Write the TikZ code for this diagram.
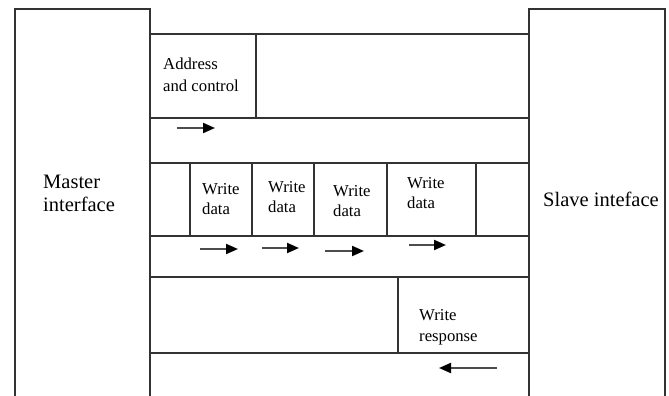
\documentclass[tikz,border=0pt]{standalone}
\usepackage{fontspec}
\setmainfont{Liberation Serif}
\usetikzlibrary{arrows.meta}
\tikzset{
  frame/.style={draw=black!80, line width=1.3pt},
  cellline/.style={draw=black!80, line width=1.1pt},
  smalltext/.style={inner sep=0pt, anchor=base west, align=left, font=\fontsize{16.7}{21}\selectfont},
  bigtext/.style={inner sep=0pt, anchor=base west, align=left, font=\fontsize{20.5}{23}\selectfont},
  flow/.style={draw=black!70, line width=2pt, -{Triangle[length=12pt,width=10pt,color=black]}},
}
\begin{document}
\begin{tikzpicture}[x=1pt,y=-1pt]
\useasboundingbox[fill=white] (0,0) rectangle (669,396);
\clip (0,0) rectangle (669,396);
% master and slave
\draw[frame] (15,400) -- (15,9) -- (150,9) -- (150,400);
\draw[frame] (529,400) -- (529,9) -- (665,9) -- (665,400);
% channel rows
\foreach \yy in {34,118,163,236,277,353}
  \draw[cellline] (150,\yy) -- (529,\yy);
% address box
\draw[cellline] (256,34) -- (256,118);
% write data cells
\foreach \xx in {190,252,314,387,476}
  \draw[cellline] (\xx,163) -- (\xx,236);
% write response box
\draw[cellline] (398,277) -- (398,353);
% labels (anchor at baseline of last line)
\node[bigtext] (master) at (43,211) {Master\\interface};
\node[bigtext] (slave) at (543,206) {Slave inteface};
\node[smalltext, font=\fontsize{16.7}{22}\selectfont] (addr) at (163,92) {Address\\and control};
\node[smalltext, font=\fontsize{16.7}{20}\selectfont] (wd1) at (202,214) {Write\\data};
\node[smalltext, font=\fontsize{16.7}{20}\selectfont] (wd2) at (268,212) {Write\\data};
\node[smalltext, font=\fontsize{16.7}{20}\selectfont] (wd3) at (333,216) {Write\\data};
\node[smalltext, font=\fontsize{16.7}{20}\selectfont] (wd4) at (407,208) {Write\\data};
\node[smalltext] (wresp) at (419,341) {Write\\response};
% arrows
\coordinate (a1s) at (177,128); \coordinate (a1e) at (215,128);
\coordinate (d1s) at (200,249); \coordinate (d1e) at (238,249);
\coordinate (d2s) at (262,248); \coordinate (d2e) at (299,248);
\coordinate (d3s) at (325,251); \coordinate (d3e) at (364,251);
\coordinate (d4s) at (409,245); \coordinate (d4e) at (446,245);
\coordinate (r1s) at (497,368); \coordinate (r1e) at (439,368);
\draw[flow] (a1s) -- (a1e);
\draw[flow] (d1s) -- (d1e);
\draw[flow] (d2s) -- (d2e);
\draw[flow] (d3s) -- (d3e);
\draw[flow] (d4s) -- (d4e);
\draw[flow] (r1s) -- (r1e);
\end{tikzpicture}
\end{document}
